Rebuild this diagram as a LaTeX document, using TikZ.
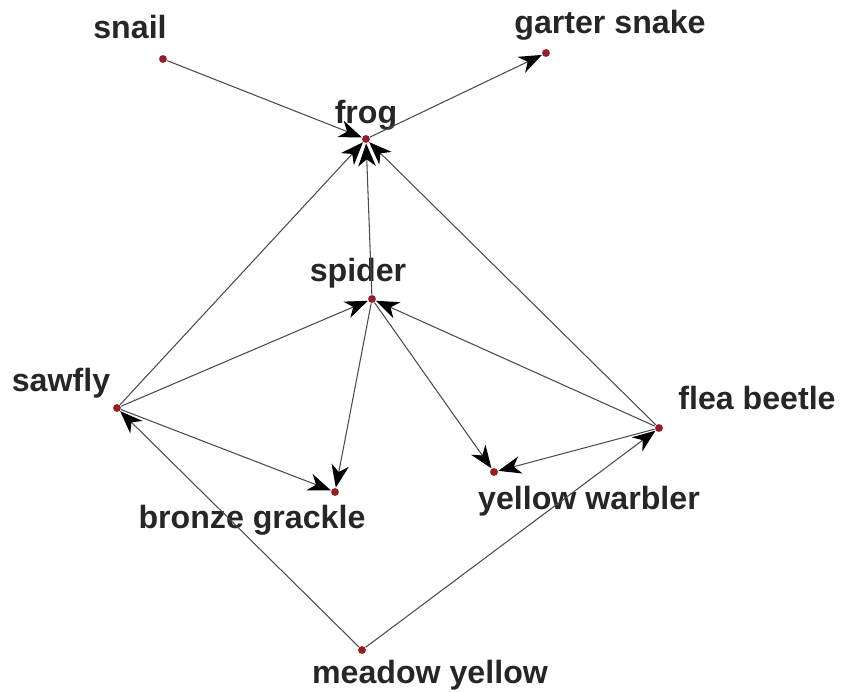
\documentclass[tikz,border=0pt]{standalone}
\usepackage{fontspec}
\setmainfont{Liberation Sans}
\usetikzlibrary{arrows.meta}
\definecolor{dotred}{RGB}{150,30,35}
\definecolor{edgegray}{RGB}{75,75,75}

\begin{document}
\begin{tikzpicture}[x=0.02cm,y=-0.02cm,->,>={Stealth[length=13pt,width=10pt,inset=4pt,color=black]},semithick,
    species/.style={circle,fill=dotred,inner sep=0pt,minimum size=4.5pt},
    spname/.style={font=\fontsize{18.3}{21}\selectfont\bfseries,text=black!85}]
    \useasboundingbox (0,0) rectangle (843,693);
    % species
    \node[species] (snail) at (163,59) {};
    \node[species] (garter) at (546,53) {};
    \node[species] (frog) at (366,139) {};
    \node[species] (spider) at (372,299) {};
    \node[species] (sawfly) at (117,408) {};
    \node[species] (flea) at (659,428) {};
    \node[species] (grackle) at (335,492) {};
    \node[species] (warbler) at (494,472) {};
    \node[species] (meadow) at (362,650) {};
    % names
    \node[spname] (snail-l) at (130,27) {snail};
    \node[spname] (garter-l) at (610,25) {garter snake};
    \node[spname] (frog-l) at (366,115) {frog};
    \node[spname] (spider-l) at (358,273) {spider};
    \node[spname] (sawfly-l) at (61,383) {sawfly};
    \node[spname] (flea-l) at (757,398) {flea beetle};
    \node[spname] (grackle-l) at (252,520) {bronze grackle};
    \node[spname] (warbler-l) at (589,501) {yellow warbler};
    \node[spname] (meadow-l) at (430,675) {meadow yellow};
    % who eats whom
    \path[draw=edgegray]
    (snail) edge (frog)
    (frog) edge (garter)
    (spider) edge (frog)
    (sawfly) edge (frog)
             edge (spider)
             edge (grackle)
    (flea) edge (frog)
           edge (spider)
           edge (warbler)
    (spider) edge (grackle)
             edge (warbler)
    (meadow) edge (sawfly)
             edge (flea)
    ;
\end{tikzpicture}
\end{document}
